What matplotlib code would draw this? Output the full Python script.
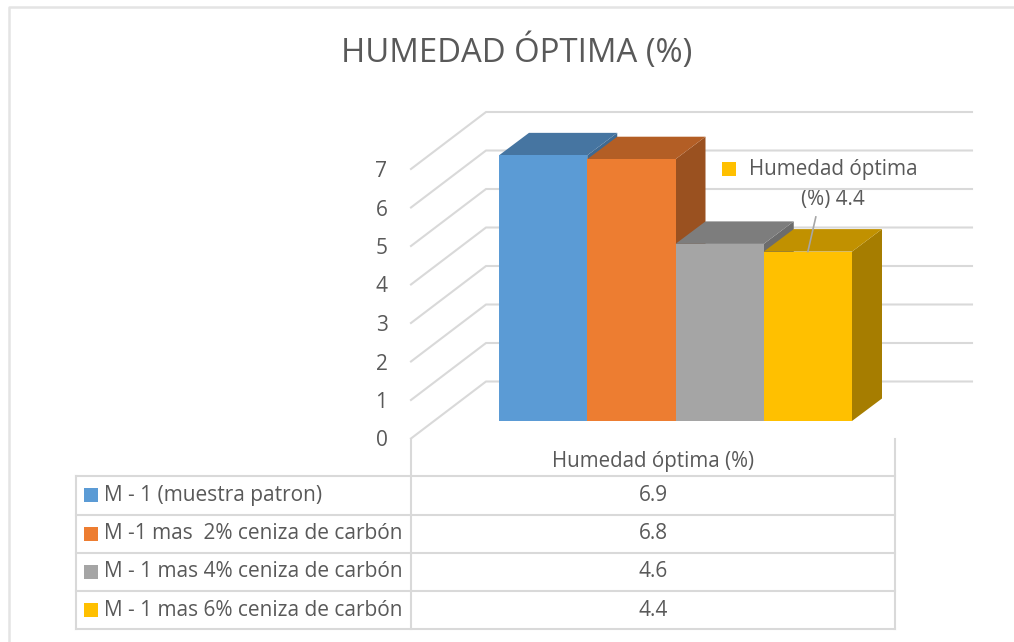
import matplotlib
matplotlib.use("Agg")
import matplotlib.pyplot as plt
from matplotlib.patches import Polygon, Rectangle

# Data
categories = ['M - 1 (muestra patron)', 'M -1 mas  2% ceniza de carbón',
              'M - 1 mas 4% ceniza de carbón', 'M - 1 mas 6% ceniza de carbón']
values = [6.9, 6.8, 4.6, 4.4]
y_ticks = [0, 1, 2, 3, 4, 5, 6, 7]
table_header = 'Humedad óptima (%)'
title = 'HUMEDAD ÓPTIMA (%)'

# Colours: front, top, side
front_colors = ['#5B9BD5', '#ED7D31', '#A5A5A5', '#FFC000']
top_colors = ['#4675A1', '#B35E25', '#7D7D7D', '#C19100']
side_colors = ['#3F6A92', '#9A5120', '#6C6C6C', '#A67D00']
line_c = '#D9D9D9'
text_c = '#595959'

W, H = 1014, 642
plt.rcParams['font.family'] = ['Open Sans', 'DejaVu Sans']
fig = plt.figure(figsize=(W / 100, H / 100), dpi=100)


def axes_px(left, top, right, bottom):
    return fig.add_axes([left / W, 1 - bottom / H, (right - left) / W, (bottom - top) / H])


# overlay in pixels for the frame and the table
page = axes_px(0, 0, W, H)
page.set_xlim(0, W)
page.set_ylim(H, 0)
page.axis('off')
page.plot([9, 9, W], [H, 6.5, 6.5], color='#E4E4E4', lw=1.8)

# bars axes: one x unit per category, y in humidity units
ax = axes_px(499, 151.5, 852, 421)
ax.set_xlim(0, 4)
ax.set_ylim(0, 7)
ax.axis('off')
ax.patch.set_alpha(0)

bar_dx, bar_dy = 30 / 88.25, 22.5 / 38.5       # bar depth
floor_x, floor_dy = -88 / 88.25, -17.5 / 38.5  # front left of the floor
wall_x, wall_y = -13 / 88.25, 39.5 / 38.5      # back left of the wall
wall_right = 473 / 88.25

# wall gridlines
for t in y_ticks:
    ax.plot([floor_x, wall_x, wall_right], [t + floor_dy, t + wall_y, t + wall_y],
            color=line_c, lw=1.5, clip_on=False, zorder=1)

# bars, left to right so the sides overlap properly
for i, v in enumerate(values):
    ax.add_patch(Polygon([(i + 1, 0), (i + 1 + bar_dx, bar_dy), (i + 1 + bar_dx, v + bar_dy), (i + 1, v)],
                         fc=side_colors[i], ec='none', clip_on=False, zorder=2 + i))
    ax.add_patch(Polygon([(i, v), (i + bar_dx, v + bar_dy), (i + 1 + bar_dx, v + bar_dy), (i + 1, v)],
                         fc=top_colors[i], ec='none', clip_on=False, zorder=2 + i))
    ax.add_patch(Rectangle((i, 0), 1, v, fc=front_colors[i], ec='none', clip_on=False, zorder=2 + i))

# value axis sits on the front edge of the floor
ax_y = axes_px(393, 169, 394, 438.5)
ax_y.set_ylim(0, 7)
ax_y.set_xticks([])
ax_y.set_yticks(y_ticks)
ax_y.tick_params(axis='y', length=0, labelsize=15, labelcolor=text_c, pad=4)
ax_y.patch.set_alpha(0)
for s in ax_y.spines.values():
    s.set_visible(False)

# data label with leader line
ax.plot([3.5, 3.59], [values[3], values[3] + 0.9], color='#A6A6A6', lw=1.2, zorder=10, clip_on=False)
page.add_patch(Rectangle((722, 162), 14, 14, fc=front_colors[3], ec='none'))
page.text(833, 170, 'Humedad óptima', fontsize=14.9, color=text_c, ha='center', va='center')
page.text(833, 199, '(%) 4.4', fontsize=14.9, color=text_c, ha='center', va='center')

page.text(516.5, 52, title, fontsize=23.7, color=text_c, ha='center', va='center')

# data table
row_y = [476, 514.5, 552.5, 591, 629]
page.plot([76, 76], [row_y[0], row_y[-1]], color=line_c, lw=1.5)
page.plot([411, 411], [438.5, row_y[-1]], color=line_c, lw=1.5)
page.plot([895, 895], [438.5, row_y[-1]], color=line_c, lw=1.5)
for y in row_y:
    page.plot([76, 895], [y, y], color=line_c, lw=1.5)
page.text(653, 461, table_header, fontsize=14.8, color=text_c, ha='center', va='center')
for i, name in enumerate(categories):
    yc = (row_y[i] + row_y[i + 1]) / 2
    page.add_patch(Rectangle((84, yc - 7), 14, 14, fc=front_colors[i], ec='none'))
    page.text(104, yc, name, fontsize=15, color=text_c, ha='left', va='center')
    page.text(653, yc, str(values[i]), fontsize=15, color=text_c, ha='center', va='center')

fig.savefig('out.png', dpi=100)
